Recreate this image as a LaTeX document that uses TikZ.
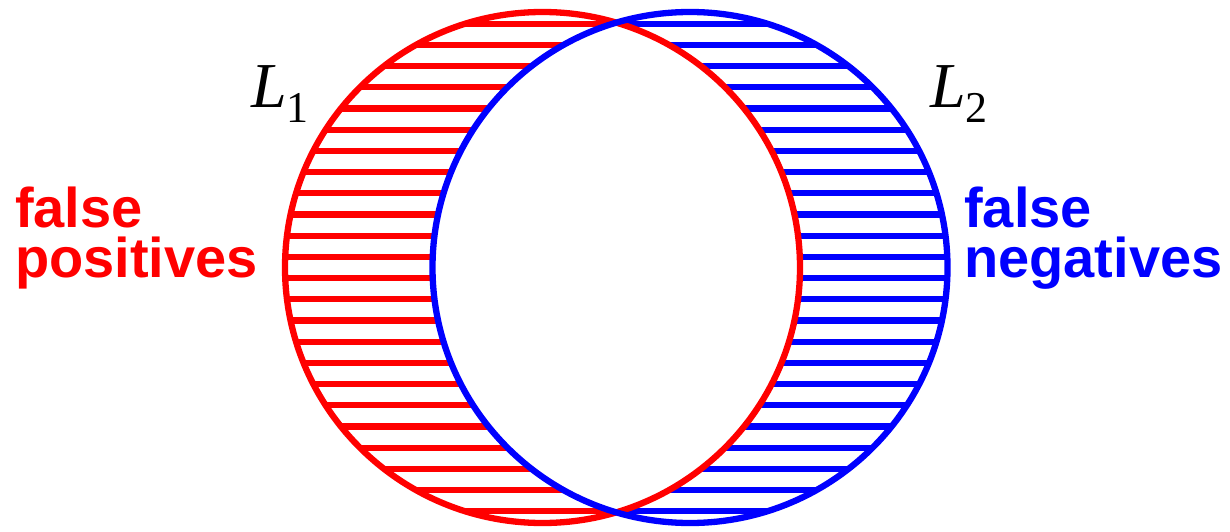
\documentclass[tikz,border=0pt]{standalone}
\usepackage{fontspec}
\setsansfont{Liberation Sans}
\newfontfamily\setnamefont{Liberation Serif}
\usepackage{tikz}
\definecolor{setred}{RGB}{255,0,0}
\definecolor{setblue}{RGB}{0,0,255}
\newcommand{\setlabel}[1]{{\itshape L}\raisebox{-14.5pt}{\fontsize{44}{44}\selectfont #1}}
\tikzset{
  redset/.style={draw=setred, line width=6.3pt},
  blueset/.style={draw=setblue, line width=6.3pt},
  redhatch/.style={setred, line width=6.3pt},
  bluehatch/.style={setblue, line width=6.3pt},
  setname/.style={anchor=base west, inner sep=0pt,
                  font=\fontsize{64}{64}\selectfont\setnamefont},
  errlab/.style={anchor=base west, inner sep=0pt, align=left,
                 font=\fontsize{56}{50}\selectfont\sffamily\bfseries},
}

\begin{document}
\begin{tikzpicture}[x=1pt,y=1pt]
  \path[use as bounding box] (0,0) rectangle (1230,531);

  % Hatching of the two lunes.
  \foreach \k in {0,...,23} {
    \pgfmathsetmacro{\dy}{(\k-11.5)*21.2}
    \pgfmathsetmacro{\w}{257.5*sqrt(1-(\dy/255.5)^2)}
    \draw[redhatch] (542.5-\w,263.5-\dy) -- (690-\w,263.5-\dy);
    \draw[bluehatch] (542.5+\w,263.5-\dy) -- (690+\w,263.5-\dy);
  }

  % The two sets.
  \draw[redset] (542.5,263.5) ellipse [x radius=257.5, y radius=255.5];
  \draw[blueset] (690,263.5) ellipse [x radius=257.5, y radius=255.5];

  \node[setname] (lone) at (251,423) {\setlabel{1}};
  \node[setname] (ltwo) at (930,423) {\setlabel{2}};

  % Error labels.
  \node[errlab, text=setred] (fpos) at (15,254) {false\\positives};
  \node[errlab, text=setblue] (fneg) at (964,254) {false\\negatives};
\end{tikzpicture}
\end{document}
